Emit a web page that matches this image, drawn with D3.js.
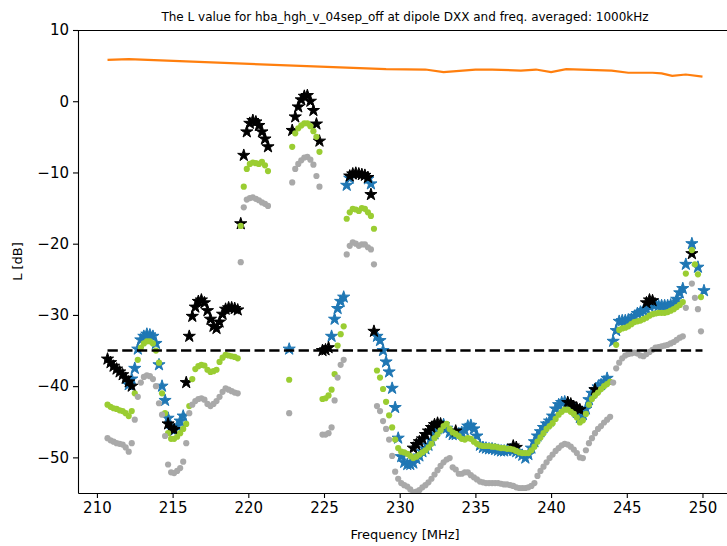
<!DOCTYPE html>
<html><head><meta charset="utf-8">
<script src="https://cdn.jsdelivr.net/npm/d3@7"></script>
<style>body{margin:0;background:#fff;} svg{display:block;font-family:"DejaVu Sans",sans-serif;}</style>
</head><body><svg id="chart" width="727" height="546"></svg>
<script>
// ---------- DATA ----------
const titleText = "The L value for hba_hgh_v_04sep_off at dipole DXX and freq. averaged: 1000kHz";
const xTicks = [210, 215, 220, 225, 230, 235, 240, 245, 250];
const yTicks = [-50, -40, -30, -20, -10, 0, 10];

const freqs = [
210.7,210.9,211.1,211.3,211.5,211.7,211.9,212.1,212.3,212.5,
212.7,212.9,213.1,213.3,213.5,213.7,213.9,214.1,214.3,214.5,
214.7,214.9,215.1,215.3,215.5,215.7,215.9,216.1,216.3,216.5,
216.7,216.9,217.1,217.3,217.5,217.7,217.9,218.1,218.3,218.5,
218.7,218.9,219.1,219.3,219.5,219.7,219.9,220.1,220.3,220.5,
220.7,220.9,221.1,221.3,221.5,221.7,221.9,222.1,222.3,222.5,
222.7,222.9,223.1,223.3,223.5,223.7,223.9,224.1,224.3,224.5,
224.7,224.9,225.1,225.3,225.5,225.7,225.9,226.1,226.3,226.5,
226.7,226.9,227.1,227.3,227.5,227.7,227.9,228.1,228.3,228.5,
228.7,228.9,229.1,229.3,229.5,229.7,229.9,230.1,230.3,230.5,
230.7,230.9,231.1,231.3,231.5,231.7,231.9,232.1,232.3,232.5,
232.7,232.9,233.1,233.3,233.5,233.7,233.9,234.1,234.3,234.5,
234.7,234.9,235.1,235.3,235.5,235.7,235.9,236.1,236.3,236.5,
236.7,236.9,237.1,237.3,237.5,237.7,237.9,238.1,238.3,238.5,
238.7,238.9,239.1,239.3,239.5,239.7,239.9,240.1,240.3,240.5,
240.7,240.9,241.1,241.3,241.5,241.7,241.9,242.1,242.3,242.5,
242.7,242.9,243.1,243.3,243.5,243.7,243.9,244.1,244.3,244.5,
244.7,244.9,245.1,245.3,245.5,245.7,245.9,246.1,246.3,246.5,
246.7,246.9,247.1,247.3,247.5,247.7,247.9,248.1,248.3,248.5,
248.7,248.9,249.1,249.3,249.5,249.7,249.9,250.1];

const n = null;
const blueStars = [
n,n,n,n,n,n,n,-39.8,-39.0,-37.5,
-34.8,-33.5,-33.0,-32.7,-32.8,-33.0,-34.0,-37.0,-40.0,-42.0,
-44.5,-46.0,-46.2,-45.6,-44.9,-44.2,n,n,n,n,
n,n,n,n,n,n,n,n,n,n,
n,n,n,n,n,n,n,n,n,n,
n,n,n,n,n,n,n,n,n,n,
-34.8,n,n,n,n,n,n,n,n,n,
n,n,n,n,-33.0,-30.6,-29.1,-28.1,-27.5,-11.8,
-10.8,n,n,n,n,n,-10.9,-11.6,n,-33.0,
-33.6,-35.0,-36.6,-38.0,-40.3,-43.0,-47.3,-49.9,-50.7,-51.0,
-51.0,-50.8,-50.2,-49.8,-49.2,-48.8,-48.3,-47.6,-46.7,-46.0,
-45.6,-45.4,-45.9,-46.5,-46.8,-46.8,-46.7,-46.5,-46.2,-45.6,
-45.5,-46.0,-47.0,-48.3,-48.6,-48.7,-48.8,-48.8,-48.9,-49.0,
-49.1,-49.1,-49.0,-48.9,-49.0,-49.2,-49.4,-49.7,-50.1,-49.6,
-48.7,-47.8,-47.0,-46.4,-45.8,-45.3,-44.9,-44.2,-43.2,-42.6,
-42.3,-42.2,-42.4,-42.7,-43.1,-43.7,-44.4,-44.0,-43.2,-41.9,
-41.0,-40.5,-40.1,-39.8,-39.4,-38.9,n,-33.7,-32.2,-30.9,
-30.8,-30.8,-30.7,-30.6,-30.2,-29.8,-29.6,-29.4,-29.2,-28.8,
-28.5,-28.6,-28.7,-28.7,-28.7,-28.7,-28.6,-28.4,-27.8,-26.9,
-26.3,-22.9,n,-20.0,n,-23.3,n,-26.6];

const blackStars = [
-36.2,-36.7,-37.2,-37.6,-38.0,-38.4,-38.9,-39.4,-40.0,n,
n,n,n,n,n,n,n,n,n,n,
-45.3,-45.9,-46.1,n,n,n,-39.5,-33.0,-30.2,-28.9,
-28.1,-27.9,-28.3,-29.4,-30.6,-31.6,-31.9,-31.0,-29.9,-29.2,
-29.0,-29.0,-29.1,-29.3,-17.2,-7.6,-4.3,-3.1,-2.7,-2.9,
-3.4,-4.3,-5.3,-6.4,n,n,n,n,n,n,
n,-4.1,-2.2,-0.8,0.2,0.7,0.8,0.0,-1.3,-3.2,
-5.6,-35.0,-34.9,-34.6,n,n,n,n,n,n,
-10.5,-10.2,-10.1,-10.2,-10.3,-10.4,-10.7,-13.1,-32.3,n,
n,n,n,n,n,n,n,n,n,n,
n,-48.7,-48.2,-47.8,-47.4,-46.8,-46.3,-45.8,-45.4,-45.2,
-45.3,n,n,n,n,-46.3,n,n,n,n,
n,n,n,n,n,n,n,n,n,n,
n,n,n,n,-48.4,-48.6,n,n,n,n,
n,n,n,n,n,n,n,n,n,n,
n,n,-42.3,-42.5,-42.9,-43.1,-43.3,n,n,n,
n,-40.5,n,n,n,n,n,n,n,n,
n,n,n,n,n,n,n,n,-28.3,-27.9,
-28.0,n,n,n,n,n,n,n,n,n,
n,n,n,-21.4,n,n,n,n];

const greenDots = [
-42.6,-42.9,-43.1,-43.2,-43.4,-43.5,-43.8,-44.2,-43.5,-41.0,
-36.3,-34.6,-34.0,-33.7,-33.7,-34.0,-35.0,-36.7,-41.0,-43.8,
-46.6,-47.4,-47.4,-47.1,-46.6,-46.0,-45.3,-42.8,-39.0,-37.6,
-37.2,-37.0,-37.1,-37.7,-38.0,-37.9,-37.7,-36.6,-36.0,-35.6,
-35.7,-35.8,-35.9,-36.1,-17.5,-12.0,-9.5,-8.8,-8.6,-8.7,
-8.8,-8.5,-9.0,-9.8,n,n,n,n,n,n,
-39.1,-6.4,-4.5,-3.8,-3.4,-3.1,-3.1,-3.5,-4.2,-5.0,
-7.1,-41.8,-41.7,-41.3,-40.5,-38.3,-34.3,-32.7,-31.6,-16.5,
-15.6,-15.1,-15.2,-15.4,-15.0,-15.1,-15.6,-16.1,-17.9,-37.8,
-38.8,-40.4,-42.2,-44.1,-45.8,-47.5,-48.7,-49.2,-49.3,-49.5,
-49.8,-50.1,-49.9,-49.6,-49.3,-49.0,-48.6,-48.1,-47.3,-46.8,
-46.2,-45.6,-45.3,-46.0,-46.5,-46.7,-47.0,-47.4,-47.5,-47.3,
-47.4,-47.8,-48.1,-48.3,-48.4,-48.4,-48.4,-48.5,-48.5,-48.6,
-48.7,-48.7,-48.8,-48.8,-48.9,-49.1,-49.3,-49.4,-49.4,-49.4,
-49.0,-48.5,-47.8,-47.2,-46.6,-46.0,-45.6,-45.2,-44.6,-44.0,
-43.6,-43.3,-43.3,-43.6,-43.9,-44.4,-45.1,-44.8,-43.9,-42.6,
-41.8,-41.3,-40.9,-40.4,-40.0,-39.7,-39.4,n,-34.2,-32.1,
-31.9,-31.8,-31.6,-31.3,-31.0,-30.9,-30.8,-30.6,-30.4,-30.1,
-29.9,-29.8,-29.7,-29.7,-29.7,-29.6,-29.4,-29.2,-28.9,-28.6,
-28.2,-24.2,n,-20.9,-22.9,-24.3,-27.5,n];

const grayDots = [
-47.3,-47.6,-47.8,-48.0,-48.1,-48.2,-48.6,-49.2,-48.0,-44.7,
-41.5,-39.5,-38.7,-38.5,-38.6,-39.0,-40.0,-42.4,-44.0,-47.0,
-51.0,-52.1,-52.2,-51.9,-51.5,-50.6,-48.0,-43.8,-42.6,-42.1,
-41.8,-41.7,-41.9,-42.5,-42.8,-42.5,-42.1,-41.5,-40.8,-40.3,
-40.5,-40.7,-40.9,-41.0,-22.6,-14.9,-13.8,-13.6,-13.5,-13.7,
-13.9,-14.2,-14.4,-14.7,n,n,n,n,n,n,
-43.8,-11.4,-9.5,-8.8,-8.3,-7.9,-7.8,-8.2,-8.9,-10.5,
-12.0,-46.8,-46.8,-46.6,-45.8,-42.0,-38.8,-37.0,-36.3,-21.5,
-20.3,-19.8,-20.0,-20.3,-20.1,-20.1,-20.5,-20.8,-22.9,-42.8,
-43.5,-44.9,-46.0,-47.5,-49.8,-52.0,-53.0,-53.6,-53.9,-54.1,
-54.5,-54.9,-54.8,-54.6,-54.2,-53.9,-53.5,-53.0,-52.4,-51.8,
-51.2,-50.7,-50.3,-50.1,-51.4,-51.7,-52.3,-52.3,-52.1,-52.1,
-52.5,-52.8,-53.1,-53.4,-53.5,-53.6,-53.6,-53.6,-53.6,-53.6,
-53.7,-53.8,-53.8,-53.9,-54.0,-54.2,-54.3,-54.3,-54.3,-54.2,
-54.0,-53.6,-52.6,-51.9,-51.3,-50.7,-50.1,-49.6,-49.1,-48.7,
-48.3,-48.1,-48.2,-48.5,-48.9,-49.4,-50.0,-50.1,-49.0,-48.0,
-47.3,-46.6,-46.0,-45.6,-45.1,-44.7,-44.3,-39.5,-37.5,-36.7,
-36.1,-35.7,-35.5,-35.4,-35.3,-35.4,-35.7,-35.8,-35.5,-35.2,
-34.9,-34.6,-34.5,-34.4,-34.3,-34.2,-34.0,-33.8,-33.5,-33.2,
-33.0,-29.0,n,-25.6,-27.6,-29.2,-32.3,n];

const orangeFreqs = [210.7, 212.1, 229.1, 231.7, 232.9, 235.0, 236.1, 238.0, 239.0, 240.0, 241.0, 244.0, 245.1, 246.7, 247.3, 248.0, 248.9, 250.0];
const orangeL = [5.8, 5.9, 4.5, 4.45, 4.1, 4.45, 4.45, 4.3, 4.45, 4.1, 4.5, 4.3, 4.0, 4.0, 3.9, 3.55, 3.75, 3.45];

const thresholdFreqs = [210.7, 250.0];
const thresholdL = [-35, -35];

// ---------- DRAW ----------
const svg = d3.select("#chart");
const mLeft = 78, mRight = 732, mTop = 30, mBottom = 493;
const x = d3.scaleLinear().domain([208.75, 251.95]).range([mLeft, mRight]);
const y = d3.scaleLinear().domain([-55, 10]).range([mBottom, mTop]);

svg.append("defs").append("clipPath").attr("id", "clip")
  .append("rect").attr("x", mLeft).attr("y", mTop).attr("width", mRight - mLeft).attr("height", mBottom - mTop);
const plot = svg.append("g").attr("clip-path", "url(#clip)");

function pts(vals) { return freqs.map((f, i) => [f, vals[i]]).filter(d => d[1] !== null); }

const star = d3.symbol().type(d3.symbolStar).size(46);

plot.append("g").selectAll("path").data(pts(blueStars)).join("path")
  .attr("d", star).attr("transform", d => `translate(${x(d[0])},${y(d[1])})`)
  .attr("fill", "#1f77b4").attr("stroke", "#1f77b4").attr("stroke-width", 1);
plot.append("g").selectAll("path").data(pts(blackStars)).join("path")
  .attr("d", star).attr("transform", d => `translate(${x(d[0])},${y(d[1])})`)
  .attr("fill", "#000").attr("stroke", "#000").attr("stroke-width", 1);
plot.append("g").selectAll("circle").data(pts(greenDots)).join("circle")
  .attr("cx", d => x(d[0])).attr("cy", d => y(d[1])).attr("r", 3.1).attr("fill", "#9acd32");
plot.append("g").selectAll("circle").data(pts(grayDots)).join("circle")
  .attr("cx", d => x(d[0])).attr("cy", d => y(d[1])).attr("r", 3.1).attr("fill", "#a9a9a9");

const line = d3.line().x(d => x(d[0])).y(d => y(d[1]));
plot.append("path").datum(d3.zip(orangeFreqs, orangeL)).attr("d", line)
  .attr("fill", "none").attr("stroke", "#ff7f0e").attr("stroke-width", 2.2);
plot.append("path").datum(d3.zip(thresholdFreqs, thresholdL)).attr("d", line)
  .attr("fill", "none").attr("stroke", "#000").attr("stroke-width", 2.5).attr("stroke-dasharray", "10.3,4.4");

const xAxis = svg.append("g").attr("transform", `translate(0,${mBottom})`)
  .call(d3.axisBottom(x).tickValues(xTicks).tickSize(5).tickPadding(4).tickSizeOuter(0).tickFormat(d3.format("d")));
const yAxis = svg.append("g").attr("transform", `translate(${mLeft},0)`)
  .call(d3.axisLeft(y).tickValues(yTicks).tickSize(5).tickPadding(4).tickSizeOuter(0));
[xAxis, yAxis].forEach(g => {
  g.attr("font-family", "DejaVu Sans, sans-serif").attr("font-size", 15);
  g.selectAll("text").attr("fill", "#000");
  g.selectAll("line").attr("stroke", "#000").attr("stroke-width", 1.1);
  g.select(".domain").attr("stroke", "#000").attr("stroke-width", 1.1);
});
svg.append("line").attr("x1", mLeft).attr("x2", mRight).attr("y1", mTop + 0.5).attr("y2", mTop + 0.5)
  .attr("stroke", "#000").attr("stroke-width", 1.1);

svg.append("text").attr("x", (mLeft + mRight) / 2).attr("y", 21).attr("text-anchor", "middle")
  .attr("font-size", 12).text(titleText);
svg.append("text").attr("x", (mLeft + mRight) / 2).attr("y", 539).attr("text-anchor", "middle")
  .attr("font-size", 13).text("Frequency [MHz]");
svg.append("text").attr("transform", `translate(22,${(mTop + mBottom) / 2}) rotate(-90)`).attr("text-anchor", "middle")
  .attr("font-size", 13).text("L [dB]");
</script></body></html>
